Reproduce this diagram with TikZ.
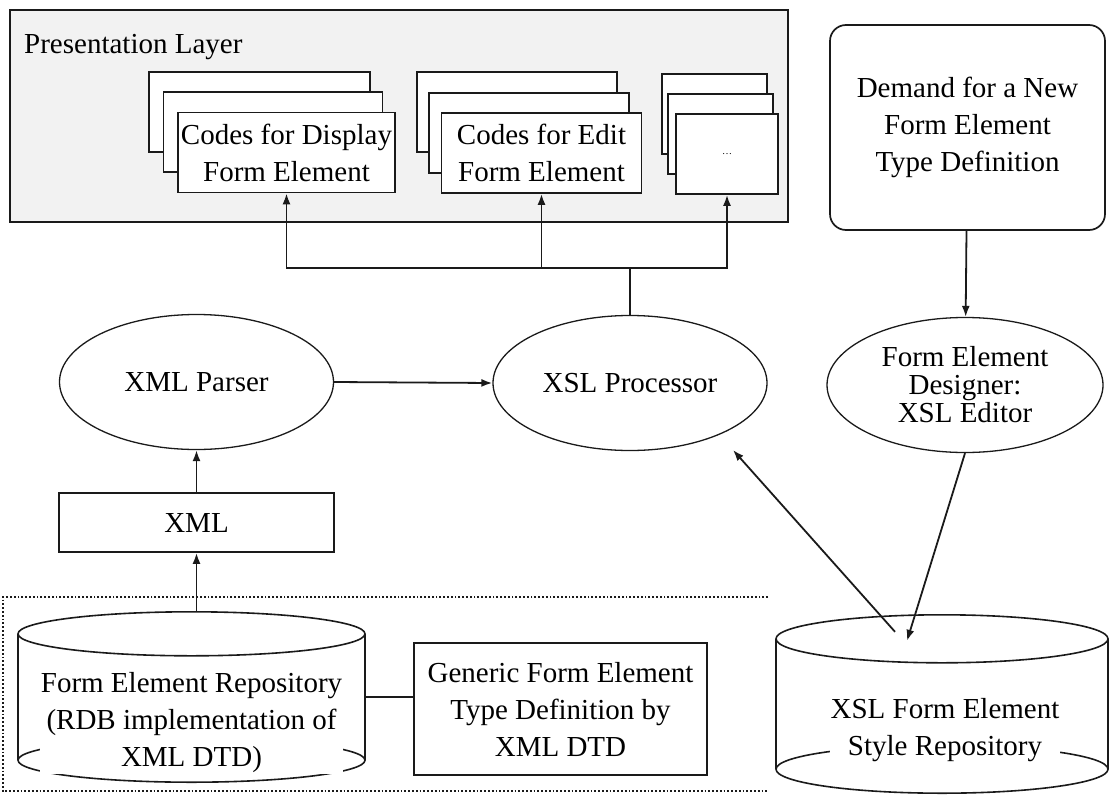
\documentclass[tikz,border=0pt]{standalone}
\usepackage{fontspec}
\setmainfont{Liberation Serif}
\usetikzlibrary{arrows.meta, positioning, shapes.geometric, calc}
\definecolor{ink}{HTML}{1A1A1A}
\definecolor{layer}{HTML}{F2F2F2}
\newcommand{\bodyfont}{\fontsize{29}{37}\selectfont}
\tikzset{
  n/.style={draw=ink, line width=1.7pt, align=center, font=\bodyfont, inner sep=2pt, fill=white},
  sb/.style={n, minimum height=80pt},
  ov/.style={n, ellipse, inner sep=0pt, minimum height=135pt, line width=1.3pt},
  drum/.style={inner sep=0pt},
  tx/.style={align=center, font=\bodyfont, inner sep=1pt, fill=white},
  a/.style={-{Latex[length=11pt, width=8pt]}, draw=ink, line width=1.8pt},
  ln/.style={draw=ink, line width=1.6pt},
  grp/.style={draw=ink, line width=1.8pt, dotted},
}

\begin{document}
\begin{tikzpicture}[x=1pt, y=-1pt]
\useasboundingbox (0,0) rectangle (1110,797);
% presentation layer
\node[n, fill=layer, minimum width=778pt, minimum height=212pt] (pres) at (399,116) {};
\node[anchor=west, font=\bodyfont, inner sep=0pt] (prestitle) at (24,47) {Presentation Layer};
\node[sb, minimum width=221pt] (disp3) at (259.5,112) {};
\node[sb, minimum width=219pt] (disp2) at (273,132) {};
\node[sb, minimum width=217pt] (disp) at (286.5,152.5) {Codes for Display\\Form Element};
\node[sb, minimum width=200pt] (edit3) at (517,112) {};
\node[sb, minimum width=200pt] (edit2) at (529,133) {};
\node[sb, minimum width=200pt] (edit) at (541.5,153) {Codes for Edit\\Form Element};
\node[sb, minimum width=105pt] (more3) at (714.5,114) {};
\node[sb, minimum width=105pt] (more2) at (720.5,134) {};
\node[sb, minimum width=102pt, font=\fontsize{10}{12}\selectfont] (more) at (727,154) {\dots};
\node[n, rounded corners=16pt, minimum width=275pt, minimum height=205pt] (demand) at (967.5,127.5) {Demand for a New\\Form Element\\Type Definition};
% processing
\node[ov, minimum width=274pt] (xmlparser) at (196.5,382) {XML Parser};
\node[ov, minimum width=274pt] (xslproc) at (630,383) {XSL Processor};
\node[ov, minimum width=276pt, font=\fontsize{29}{28}\selectfont] (designer) at (965,385) {Form Element\\Designer:\\XSL Editor};
\node[n, minimum width=275pt, minimum height=59pt] (xml) at (196.5,522.5) {XML};
% repositories
\draw[grp] (768,597) -- (3,597) -- (3,791) -- (768,791);
\node[drum, minimum width=347pt, minimum height=170pt] (formrepo) at (191.5,697) {};
\draw[ln] ([yshift=-22pt]formrepo.north) ellipse [x radius=173.5pt, y radius=22pt];
\draw[ln] ([yshift=22pt]formrepo.south) ellipse [x radius=173.5pt, y radius=22pt];
\draw[ln] ([yshift=-22pt]formrepo.north west) -- ([yshift=22pt]formrepo.south west);
\draw[ln] ([yshift=-22pt]formrepo.north east) -- ([yshift=22pt]formrepo.south east);
\node[tx] (formrepotxt) at (191.5,723) {Form Element Repository\\(RDB implementation of\\XML DTD)};
\node[n, minimum width=293pt, minimum height=132pt] (generic) at (560.5,709) {Generic Form Element\\Type Definition by\\XML DTD};
\node[drum, minimum width=332pt, minimum height=178pt] (xslrepo) at (942,704) {};
\draw[ln] ([yshift=-24pt]xslrepo.north) ellipse [x radius=166pt, y radius=24pt];
\draw[ln] ([yshift=24pt]xslrepo.south) ellipse [x radius=166pt, y radius=24pt];
\draw[ln] ([yshift=-24pt]xslrepo.north west) -- ([yshift=24pt]xslrepo.south west);
\draw[ln] ([yshift=-24pt]xslrepo.north east) -- ([yshift=24pt]xslrepo.south east);
\node[tx] (xslrepotxt) at (945,730) {XSL Form Element\\Style Repository};
\coordinate (fork) at (xslproc.north |- 0,268);
\coordinate (procin) at (733,450);

\draw[ln] (xslproc.north) -- (fork);
\draw[a] (fork) -| (disp.south);
\draw[a] (fork) -| (edit.south);
\draw[a] (fork) -| (more.south);
\draw[a] (xmlparser.east) -- (xslproc.west);
\draw[a] (xml) -- (xmlparser);
\draw[a] (xml.south |- formrepo.north) -- (xml);
\draw[ln] (formrepo.east) -- (formrepo.east -| generic.west);
\draw[a] (demand) -- (designer);
\draw[a] (designer.south) -- ([xshift=-35pt, yshift=-26pt]xslrepo.north);
\draw[a] ([xshift=-47pt, yshift=-17pt]xslrepo.north) -- (procin);
\end{tikzpicture}
\end{document}
